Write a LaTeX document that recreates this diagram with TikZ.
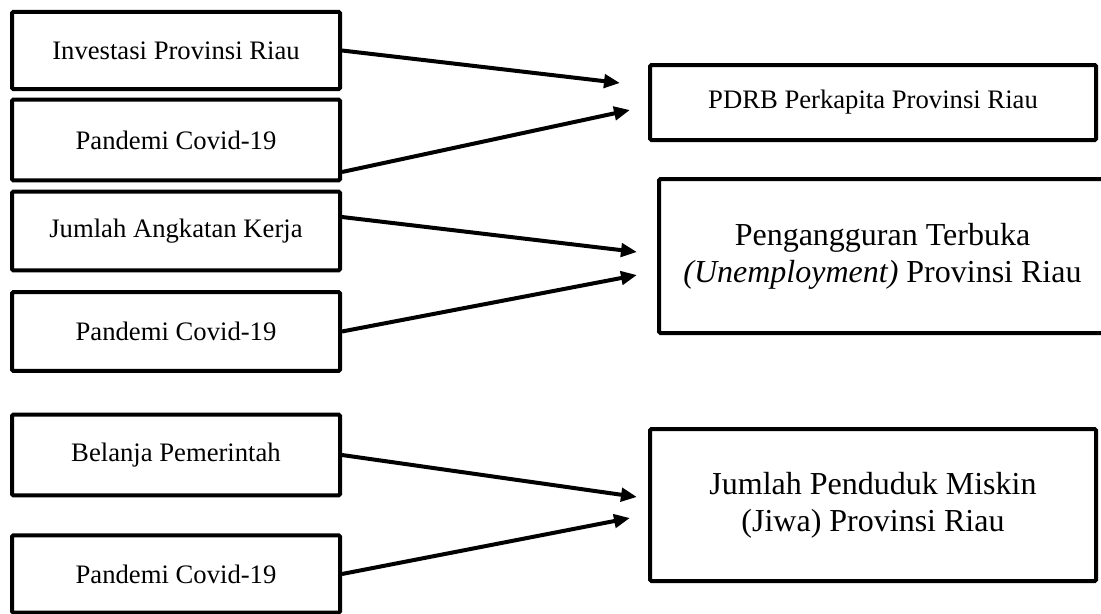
\documentclass[tikz,border=0pt]{standalone}
\usepackage{fontspec}
\setmainfont{Liberation Serif}
\usetikzlibrary{arrows.meta}

\begin{document}
\begin{tikzpicture}[x=0.75pt, y=-0.75pt,
	inbox/.style={draw, line width=3pt, rounded corners=1pt, inner sep=0pt, minimum width=246pt, minimum height=59pt, font=\fontsize{20}{24}\selectfont},
	outbox/.style={draw, line width=3pt, rounded corners=1pt, inner sep=0pt, align=center, font=\fontsize{24}{27.75}\selectfont},
	arr/.style={-{Triangle[length=12pt, width=10pt]}, line width=3pt}]
	\useasboundingbox (0,0) rectangle (1101,614);
	\node (b1) [inbox, minimum height=58pt] at (176,50.5) {Investasi Provinsi Riau};
	\node (b2) [inbox, minimum height=60.5pt] at (176,140) {Pandemi Covid-19};
	\node (b3) [inbox] at (176,231) {Jumlah Angkatan Kerja};
	\node (b4) [inbox] at (176,331.5) {Pandemi Covid-19};
	\node (b5) [inbox, minimum height=60.5pt] at (176,455) {Belanja Pemerintah};
	\node (b6) [inbox, minimum height=58pt] at (176,574) {Pandemi Covid-19};
	\node (r1) [outbox, minimum width=334.5pt, minimum height=56.25pt, font=\fontsize{20}{24}\selectfont] at (873,102.5) {PDRB Perkapita Provinsi Riau};
	\node (r2) [outbox, minimum width=335pt, minimum height=115.5pt] at (882.5,256) {Pengangguran Terbuka\\\textit{(Unemployment)} Provinsi Riau};
	\node (r3) [outbox, minimum width=334.5pt, minimum height=114pt] at (873,505) {Jumlah Penduduk Miskin\\(Jiwa) Provinsi Riau};
	\coordinate (t1) at (620,83);
	\coordinate (t2) at (630,110);
	\coordinate (t3) at (637,252);
	\coordinate (t4) at (637,275);
	\coordinate (t5) at (637,497);
	\coordinate (t6) at (630,518);
	\draw[arr] (b1.east) -- (t1);
	\draw[arr] ([yshift=-24pt]b2.east) -- (t2);
	\draw[arr] ([yshift=10.5pt]b3.east) -- (t3);
	\draw[arr] (b4.east) -- (t4);
	\draw[arr] (b5.east) -- (t5);
	\draw[arr] (b6.east) -- (t6);
\end{tikzpicture}
\end{document}
